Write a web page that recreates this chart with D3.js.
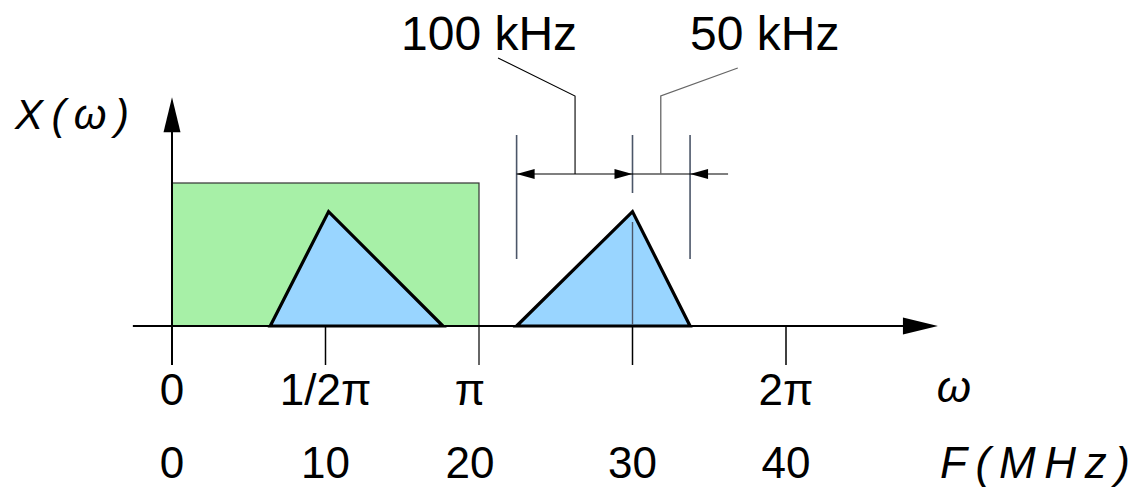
<!DOCTYPE html>
<html>
<head>
<meta charset="utf-8">
<script src="https://cdn.jsdelivr.net/npm/d3@7"></script>
<style>
  html, body { margin: 0; padding: 0; background: #fff; }
  svg { display: block; }
  text { font-family: "Liberation Sans", Arial, sans-serif; fill: #000; }
</style>
</head>
<body>
<svg id="chart" width="1136" height="490"></svg>
<script>
// Frequency axis (MHz) ticks and the matching normalised angular frequency labels
const freqTicks = [0, 10, 20, 30, 40];
const freqTickLabels = ["0", "10", "20", "30", "40"];
const omegaTicks = [0, 10, 20, 40];
const omegaTickLabels = ["0", "1/2π", "π", "2π"];

// Ideal low-pass passband: [start MHz, end MHz] with unit gain
const passband = [0, 20];
const passbandGain = 1;

// Signal spectra: [frequency MHz, magnitude]
const basebandSpectrum = [[6.4, 0], [10.2, 0.8], [17.65, 0]];
const carrierSpectrum = [[22.45, 0], [30, 0.8], [33.75, 0]];

// Bandwidth annotations
const bandLabels = ["100 kHz", "50 kHz"];

const svg = d3.select("#chart");

const x = d3.scaleLinear().domain([0, 40]).range([172, 786]);
const y = d3.scaleLinear().domain([0, 1]).range([326, 183]);

const axisColor = "#000";
const dimColor = "#4b5668";

// Labels at the band edge sit slightly left of their tick so they clear the edge line
const labelShift = d => (d === passband[1] ? -9 : 0);

// Arrowhead helper: tip at (tx, ty), pointing in direction (dx, dy)
function arrowHead(g, tx, ty, dx, dy, len, half, fill) {
  const bx = tx - dx * len, by = ty - dy * len;
  const px = -dy * half, py = dx * half;
  g.append("path")
    .attr("d", `M${tx},${ty}L${bx + px},${by + py}L${bx - px},${by - py}Z`)
    .attr("fill", fill);
}

// Passband rectangle
svg.append("rect")
  .attr("x", x(passband[0]))
  .attr("y", y(passbandGain))
  .attr("width", x(passband[1]) - x(passband[0]))
  .attr("height", y(0) - y(passbandGain))
  .attr("fill", "#a7f0a7")
  .attr("stroke", "#333")
  .attr("stroke-width", 1.2);

// Right edge of the passband continues down as the π tick
svg.append("line")
  .attr("x1", x(passband[1])).attr("x2", x(passband[1]))
  .attr("y1", y(0)).attr("y2", y(0) + 39)
  .attr("stroke", "#333").attr("stroke-width", 1.5);

// Dimension guides on the carrier spectrum
const dimY = 174;
const guideTop = 135;
const guideBottom = 259;
const [cLeft, cPeak, cRight] = carrierSpectrum.map(d => x(d[0]));

svg.append("line")
  .attr("x1", cLeft).attr("x2", cLeft)
  .attr("y1", guideTop).attr("y2", guideBottom)
  .attr("stroke", dimColor).attr("stroke-width", 1.6);
svg.append("line")
  .attr("x1", cRight).attr("x2", cRight)
  .attr("y1", guideTop).attr("y2", guideBottom)
  .attr("stroke", dimColor).attr("stroke-width", 1.6);
svg.append("line")
  .attr("x1", cPeak).attr("x2", cPeak)
  .attr("y1", guideTop).attr("y2", 193)
  .attr("stroke", dimColor).attr("stroke-width", 1.6);

// Dimension line with arrowheads
const dims = svg.append("g");
dims.append("line")
  .attr("x1", cLeft).attr("x2", cRight + 38)
  .attr("y1", dimY).attr("y2", dimY)
  .attr("stroke", "#000").attr("stroke-width", 1.2);
arrowHead(dims, cLeft, dimY, -1, 0, 18, 5, "#000");
arrowHead(dims, cPeak, dimY, 1, 0, 18, 5, "#000");
arrowHead(dims, cRight, dimY, -1, 0, 18, 5, "#000");

// Leader lines to the bandwidth labels
const leadA = (cLeft + cPeak) / 2 + 0.5;
const leadB = (cPeak + cRight) / 2 - 0.5;
svg.append("polyline")
  .attr("points", `${leadA},${dimY} ${leadA},96 ${leadA - 77},58`)
  .attr("fill", "none").attr("stroke", "#000").attr("stroke-width", 1.1);
svg.append("polyline")
  .attr("points", `${leadB},${dimY} ${leadB},96 ${leadB + 77},68`)
  .attr("fill", "none").attr("stroke", "#666").attr("stroke-width", 1.3);

svg.append("text")
  .attr("x", leadA - 86).attr("y", 50)
  .attr("text-anchor", "middle")
  .attr("font-size", 48)
  .text(bandLabels[0]);
svg.append("text")
  .attr("x", leadB + 104).attr("y", 50)
  .attr("text-anchor", "middle")
  .attr("font-size", 48)
  .text(bandLabels[1]);

// Spectra
const line = d3.line().x(d => x(d[0])).y(d => y(d[1]));
[basebandSpectrum, carrierSpectrum].forEach(s => {
  svg.append("path")
    .attr("d", line(s) + "Z")
    .attr("fill", "#99d5ff")
    .attr("stroke", "#000")
    .attr("stroke-width", 3.2)
    .attr("stroke-linejoin", "miter");
});

// Centre marker of the carrier, visible through the spectrum
svg.append("line")
  .attr("x1", cPeak).attr("x2", cPeak)
  .attr("y1", 222).attr("y2", y(0))
  .attr("stroke", dimColor).attr("stroke-width", 1.4);

// Horizontal axis
const xMin = -2.55, xMax = 49.9;
svg.append("line")
  .attr("x1", x(xMin)).attr("x2", x(xMax) - 30)
  .attr("y1", y(0)).attr("y2", y(0))
  .attr("stroke", axisColor).attr("stroke-width", 2);
arrowHead(svg, x(xMax), y(0), 1, 0, 35, 8.5, axisColor);

// Vertical axis
const yMax = 1.6;
svg.append("line")
  .attr("x1", x(0)).attr("x2", x(0))
  .attr("y1", y(0) + 39).attr("y2", y(yMax) + 30)
  .attr("stroke", axisColor).attr("stroke-width", 2);
arrowHead(svg, x(0), y(yMax), 0, -1, 35, 8.5, axisColor);

// Tick marks below the axis
svg.append("g")
  .selectAll("line")
  .data(freqTicks.filter(d => d !== 0 && d !== 20))
  .join("line")
  .attr("x1", d => x(d)).attr("x2", d => x(d))
  .attr("y1", y(0)).attr("y2", y(0) + 39)
  .attr("stroke", "#000").attr("stroke-width", 1.5);

// ω labels
svg.append("g")
  .selectAll("text")
  .data(omegaTicks)
  .join("text")
  .attr("x", d => x(d) + labelShift(d))
  .attr("y", 405)
  .attr("text-anchor", "middle")
  .attr("font-size", 44)
  .text((d, i) => omegaTickLabels[i]);

// Frequency labels
svg.append("g")
  .selectAll("text")
  .data(freqTicks)
  .join("text")
  .attr("x", d => x(d) + labelShift(d))
  .attr("y", 478)
  .attr("text-anchor", "middle")
  .attr("font-size", 44)
  .text((d, i) => freqTickLabels[i]);

// Axis titles
svg.append("text")
  .attr("x", 954).attr("y", 402)
  .attr("text-anchor", "middle")
  .attr("font-size", 44)
  .attr("font-style", "italic")
  .text("ω");

svg.append("text")
  .attr("x", 940).attr("y", 478)
  .attr("font-size", 44)
  .attr("font-style", "italic")
  .attr("textLength", 190)
  .attr("lengthAdjust", "spacing")
  .text("F(MHz)");

svg.append("text")
  .attr("x", 15).attr("y", 129)
  .attr("font-size", 42)
  .attr("font-style", "italic")
  .attr("textLength", 114)
  .attr("lengthAdjust", "spacing")
  .text("X(ω)");
</script>
</body>
</html>
